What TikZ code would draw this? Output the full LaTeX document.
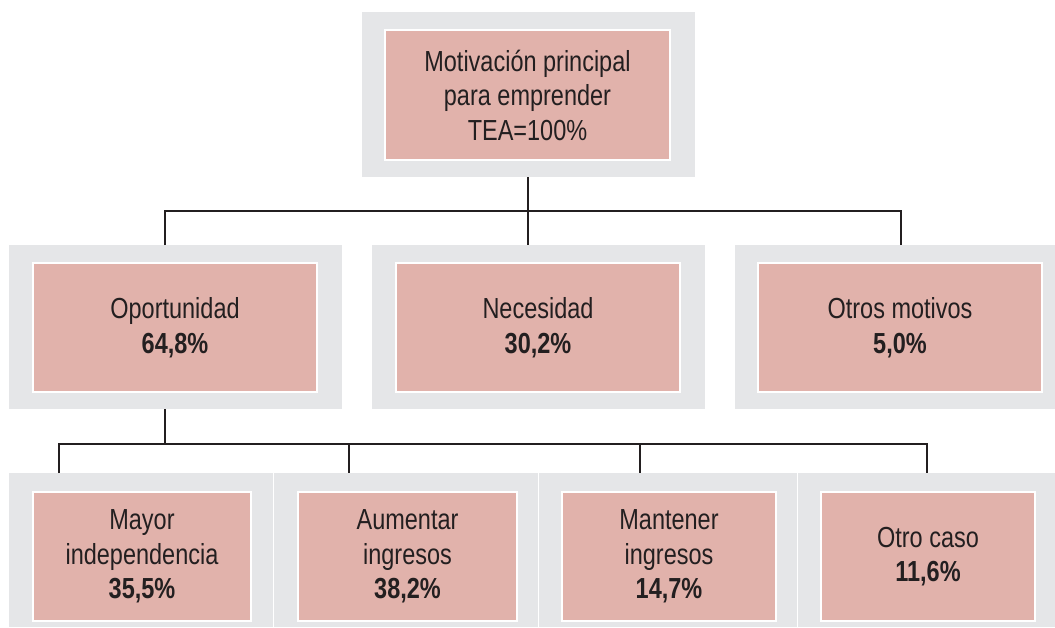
\documentclass[tikz,border=0pt]{standalone}
\usepackage{fontspec}
\setmainfont{Liberation Sans}[FakeStretch=0.81]
\definecolor{outergray}{HTML}{E5E6E8}
\definecolor{pinkfill}{HTML}{E1B2AB}
\definecolor{inkc}{HTML}{231F20}
\tikzset{
  outerbox/.style={fill=outergray, draw=none, inner sep=0pt, anchor=north west},
  pinkbox/.style={fill=pinkfill, draw=white, line width=2pt, inner sep=0pt,
    align=center, text=inkc, font=\fontsize{29}{34.5}\selectfont},
  conn/.style={draw=inkc, line width=2pt}
}
\begin{document}
\begin{tikzpicture}[x=1pt,y=-1pt]
\useasboundingbox (0,0) rectangle (1055,627);
% outer gray frames
\node[outerbox, minimum width=333, minimum height=165] (topO) at (362,12) {};
\node[outerbox, minimum width=333, minimum height=164] (opoO) at (9,245) {};
\node[outerbox, minimum width=333, minimum height=164] (necO) at (372,245) {};
\node[outerbox, minimum width=320, minimum height=164] (otrO) at (735,245) {};
\node[outerbox, minimum width=263.5, minimum height=154] (b1O) at (9,473) {};
\node[outerbox, minimum width=264.5, minimum height=154] (b2O) at (273.5,473) {};
\node[outerbox, minimum width=257.3, minimum height=154] (b3O) at (539,473) {};
\node[outerbox, minimum width=257.7, minimum height=154] (b4O) at (797.3,473) {};
% pink boxes
\node[pinkbox, minimum width=285, minimum height=130] (top) at (527.5,95) {Motivación principal\\para emprender\\TEA=100\%};
\node[pinkbox, minimum width=284, minimum height=129] (opo) at (175,327.5) {Oportunidad\\\textbf{64,8\%}};
\node[pinkbox, minimum width=284, minimum height=129] (nec) at (538,327.5) {Necesidad\\\textbf{30,2\%}};
\node[pinkbox, minimum width=284, minimum height=129] (otr) at (900,327.5) {Otros motivos\\\textbf{5,0\%}};
\node[pinkbox, minimum width=218, minimum height=129] (may) at (142,556.5) {Mayor\\independencia\\\textbf{35,5\%}};
\node[pinkbox, minimum width=219, minimum height=129] (aum) at (407.5,556.5) {Aumentar\\ingresos\\\textbf{38,2\%}};
\node[pinkbox, minimum width=214, minimum height=129] (man) at (669,556.5) {Mantener\\ingresos\\\textbf{14,7\%}};
\node[pinkbox, minimum width=214, minimum height=129] (oca) at (928,556.5) {Otro caso\\\textbf{11,6\%}};
% connector coordinates
\coordinate (j1) at (527.5,211);
\coordinate (j1l) at (165,211);
\coordinate (j1r) at (901,211);
\coordinate (j2) at (165,444);
\coordinate (j2a) at (59,444);
\coordinate (j2b) at (349,444);
\coordinate (j2c) at (640,444);
\coordinate (j2d) at (927,444);
% connectors
\draw[conn] (topO.south -| j1) -- (j1);
\draw[conn] (j1l |- opoO.north) -- (j1l) -- (j1r) -- (j1r |- otrO.north);
\draw[conn] (j1) -- (j1 |- necO.north);
\draw[conn] (opoO.south -| j2) -- (j2);
\draw[conn] (j2a |- b1O.north) -- (j2a) -- (j2d) -- (j2d |- b4O.north);
\draw[conn] (j2b) -- (j2b |- b2O.north);
\draw[conn] (j2c) -- (j2c |- b3O.north);
\end{tikzpicture}
\end{document}
